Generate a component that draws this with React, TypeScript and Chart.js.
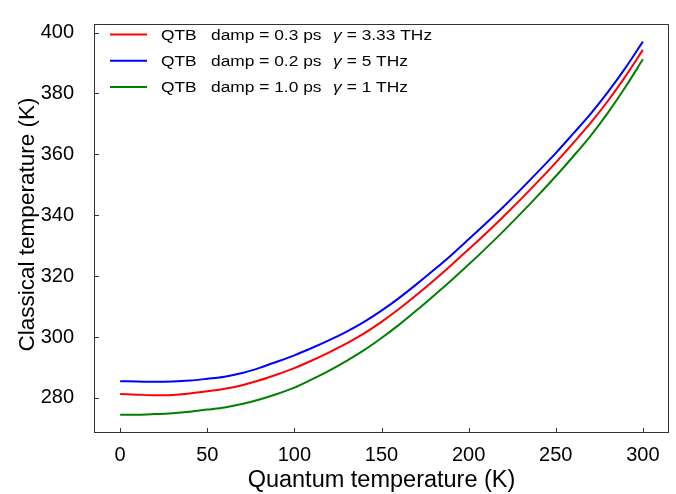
import React, { useEffect, useRef } from 'react';
import { Chart, registerables } from 'chart.js';

Chart.register(...registerables);

const quantumT = [0, 10, 20, 30, 40, 50, 60, 70, 80, 90, 100, 110, 120, 130, 140, 150, 160, 170, 180, 190, 200, 210, 220, 230, 240, 250, 260, 270, 280, 290, 300];

const classicalRed = [281.3, 281.1, 280.9, 281.0, 281.5, 282.2, 283.0, 284.2, 285.8, 287.7, 289.8, 292.3, 295.0, 297.9, 301.2, 305.0, 309.2, 313.8, 318.6, 323.6, 328.8, 334.1, 339.6, 345.3, 351.2, 357.3, 363.7, 370.3, 377.6, 385.6, 394.3];
const classicalBlue = [285.5, 285.4, 285.3, 285.4, 285.7, 286.3, 287.0, 288.2, 289.9, 291.9, 294.0, 296.4, 299.0, 301.8, 305.0, 308.7, 312.8, 317.3, 322.0, 326.9, 332.1, 337.4, 342.8, 348.5, 354.4, 360.4, 366.8, 373.3, 380.5, 388.4, 397.0];
const classicalGreen = [274.5, 274.5, 274.7, 275.0, 275.5, 276.2, 276.9, 278.0, 279.5, 281.3, 283.4, 286.1, 289.0, 292.2, 295.7, 299.7, 304.0, 308.7, 313.6, 318.6, 323.8, 329.2, 334.8, 340.6, 346.6, 352.8, 359.3, 366.1, 373.7, 382.1, 391.2];

const xTicks = [0, 50, 100, 150, 200, 250, 300];
const yTicks = [280, 300, 320, 340, 360, 380, 400];

const seriesColors = ['#ff0000', '#0000ff', '#008000'];
const legendDamp = ['damp = 0.3 ps', 'damp = 0.2 ps', 'damp = 1.0 ps'];
const legendGamma = ['= 3.33 THz', '= 5 THz', '= 1 THz'];

const xTitle = 'Quantum temperature (K)';
const yTitle = 'Classical temperature (K)';

const FONT = '"Liberation Sans", Arial, Helvetica, sans-serif';

const decorPlugin = {
  id: 'decor',
  afterDatasetsDraw(chart: any) {
    const { ctx, chartArea: a, scales } = chart;
    ctx.save();
    // frame
    ctx.strokeStyle = '#333333';
    ctx.lineWidth = 1;
    ctx.strokeRect(a.left + 0.5, a.top + 0.5, a.right - a.left - 1, a.bottom - a.top - 1);
    // inward ticks
    ctx.beginPath();
    for (const v of xTicks) {
      const px = Math.round(scales.x.getPixelForValue(v)) + 0.5;
      ctx.moveTo(px, a.bottom);
      ctx.lineTo(px, a.bottom - 5);
    }
    for (const v of yTicks) {
      const py = Math.round(scales.y.getPixelForValue(v)) + 0.5;
      ctx.moveTo(a.left, py);
      ctx.lineTo(a.left + 5, py);
    }
    ctx.stroke();

    // axis titles
    ctx.fillStyle = '#000000';
    ctx.textAlign = 'center';
    ctx.textBaseline = 'middle';
    ctx.font = `23.5px ${FONT}`;
    ctx.fillText(xTitle, (a.left + a.right) / 2, 481);
    ctx.save();
    ctx.font = `22.5px ${FONT}`;
    ctx.translate(28, (a.top + a.bottom) / 2 - 4);
    ctx.rotate(-Math.PI / 2);
    ctx.fillText(yTitle, 0, 0);
    ctx.restore();

    // legend
    ctx.textAlign = 'left';
    const sx = 1.12;
    const drawText = (t: string, x: number, y: number, italic = false) => {
      ctx.save();
      ctx.font = `${italic ? 'italic ' : ''}15.5px ${FONT}`;
      ctx.translate(x, y);
      ctx.scale(sx, 1);
      ctx.fillText(t, 0, 0);
      const w = ctx.measureText(t).width * sx;
      ctx.restore();
      return w;
    };
    for (let i = 0; i < 3; i++) {
      const y = 34.5 + i * 26.2;
      ctx.strokeStyle = seriesColors[i];
      ctx.lineWidth = 2;
      ctx.beginPath();
      ctx.moveTo(110, y);
      ctx.lineTo(147, y);
      ctx.stroke();
      ctx.fillStyle = '#000000';
      drawText('QTB', 161, y + 1);
      drawText(legendDamp[i], 211, y + 1);
      const gw = drawText('γ', 333, y + 1, true);
      drawText(legendGamma[i], 333 + gw + 5, y + 1);
    }
    ctx.restore();
  },
};

export default function App() {
  const ref = useRef<HTMLCanvasElement | null>(null);
  useEffect(() => {
    document.body.style.margin = '0';
    const canvas = ref.current;
    if (!canvas) return;
    const mk = (data: number[], color: string) => ({
      data: quantumT.map((x, i) => ({ x, y: data[i] })),
      borderColor: color,
      backgroundColor: color,
      borderWidth: 2,
      pointRadius: 0,
      cubicInterpolationMode: 'monotone' as const,
      fill: false,
    });
    const chart = new Chart(canvas, {
      type: 'line',
      data: {
        datasets: [
          mk(classicalGreen, seriesColors[2]),
          mk(classicalRed, seriesColors[0]),
          mk(classicalBlue, seriesColors[1]),
        ],
      },
      options: {
        animation: false,
        responsive: false,
        maintainAspectRatio: false,
        layout: { padding: { top: 12, right: 7, left: 0, bottom: 0 } },
        plugins: { legend: { display: false }, tooltip: { enabled: false } },
        scales: {
          x: {
            type: 'linear',
            min: -15,
            max: 315,
            grid: { display: false },
            border: { display: false },
            afterBuildTicks: (s: any) => { s.ticks = xTicks.map((v) => ({ value: v })); },
            afterFit: (s: any) => { s.height = 61; },
            ticks: { color: '#000', font: { family: FONT, size: 20 }, padding: 2, maxRotation: 0, autoSkip: false },
          },
          y: {
            type: 'linear',
            min: 268.5,
            max: 402.8,
            grid: { display: false },
            border: { display: false },
            afterBuildTicks: (s: any) => { s.ticks = yTicks.map((v) => ({ value: v })); },
            afterFit: (s: any) => { s.width = 94; },
            ticks: { color: '#000', font: { family: FONT, size: 20 }, padding: 12, autoSkip: false },
          },
        },
      },
      plugins: [decorPlugin],
    });
    return () => chart.destroy();
  }, []);
  return <canvas ref={ref} width={676} height={494} style={{ display: 'block' }} />;
}
